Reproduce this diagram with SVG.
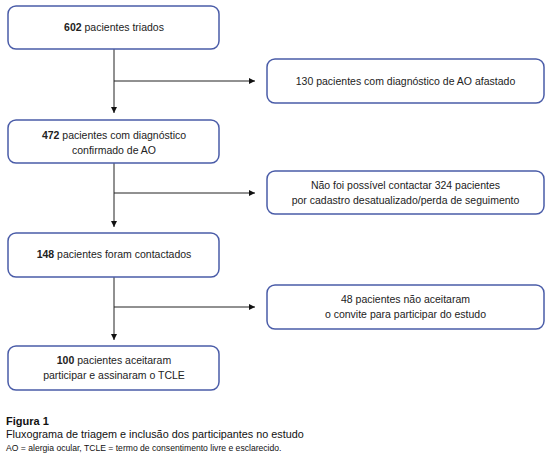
<svg xmlns="http://www.w3.org/2000/svg" width="550" height="462" viewBox="0 0 550 462">
<style>
.box{fill:#fff;stroke:#4a5ca8;stroke-width:1.5}
.t{font-family:"Liberation Sans",Arial,sans-serif;font-size:10.5px;fill:#222;text-anchor:middle}
.b{font-weight:bold}
.ln{stroke:#222;stroke-width:1;fill:none}
.cap{font-family:"Liberation Sans",Arial,sans-serif;fill:#111}
</style>
<defs>
<marker id="ah" viewBox="0 0 10 10" refX="10" refY="5" markerWidth="6" markerHeight="6" markerUnits="userSpaceOnUse" orient="auto">
<path d="M0,0 L10,5 L0,10 z" fill="#111"/>
</marker>
</defs>
<rect width="550" height="462" fill="#fff"/>
<g id="connectors">
<line class="ln" x1="114" y1="49" x2="114" y2="113" marker-end="url(#ah)"/>
<line class="ln" x1="114" y1="81" x2="255" y2="81" marker-end="url(#ah)"/>
<line class="ln" x1="114" y1="163" x2="114" y2="227" marker-end="url(#ah)"/>
<line class="ln" x1="114" y1="193" x2="255" y2="193" marker-end="url(#ah)"/>
<line class="ln" x1="114" y1="277" x2="114" y2="340" marker-end="url(#ah)"/>
<line class="ln" x1="114" y1="307" x2="255" y2="307" marker-end="url(#ah)"/>
</g>
<g id="n1">
<rect class="box" x="8" y="6" width="211" height="43" rx="8"/>
<text class="t" x="114" y="31"><tspan class="b">602</tspan> pacientes triados</text>
</g>
<g id="n2">
<rect class="box" x="267" y="59" width="277" height="44" rx="8"/>
<text class="t" x="405.5" y="85">130 pacientes com diagnóstico de AO afastado</text>
</g>
<g id="n3">
<rect class="box" x="8" y="120" width="211" height="43" rx="8"/>
<text class="t" x="114" y="139"><tspan class="b">472</tspan> pacientes com diagnóstico</text>
<text class="t" x="114" y="154">confirmado de AO</text>
</g>
<g id="n4">
<rect class="box" x="267" y="171" width="277" height="43" rx="8"/>
<text class="t" x="405.5" y="189">Não foi possível contactar 324 pacientes</text>
<text class="t" x="405.5" y="204">por cadastro desatualizado/perda de seguimento</text>
</g>
<g id="n5">
<rect class="box" x="8" y="233" width="211" height="44" rx="8"/>
<text class="t" x="114" y="258"><tspan class="b">148</tspan> pacientes foram contactados</text>
</g>
<g id="n6">
<rect class="box" x="267" y="285" width="277" height="44" rx="8"/>
<text class="t" x="405.5" y="303">48 pacientes não aceitaram</text>
<text class="t" x="405.5" y="318">o convite para participar do estudo</text>
</g>
<g id="n7">
<rect class="box" x="8" y="346" width="211" height="44" rx="8"/>
<text class="t" x="114" y="364"><tspan class="b">100</tspan> pacientes aceitaram</text>
<text class="t" x="114" y="379">participar e assinaram o TCLE</text>
</g>
<g id="caption">
<text class="cap" x="6" y="425" font-size="11" font-weight="bold">Figura 1</text>
<text class="cap" x="6" y="438" font-size="10.8">Fluxograma de triagem e inclusão dos participantes no estudo</text>
<text class="cap" x="6" y="451" font-size="8.6">AO = alergia ocular, TCLE = termo de consentimento livre e esclarecido.</text>
</g>
</svg>
